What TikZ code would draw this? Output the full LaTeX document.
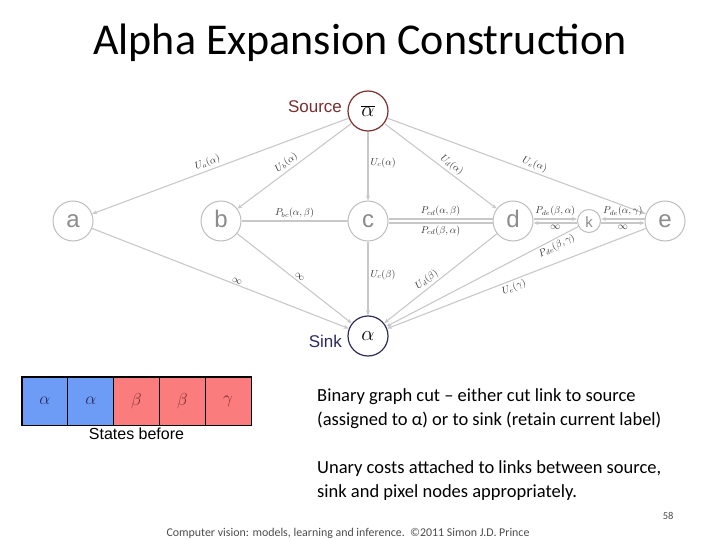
\documentclass[tikz,border=0pt]{standalone}
\usepackage{fontspec}
\setmainfont{Carlito}
\newfontfamily\graphfont{Liberation Sans}
\usetikzlibrary{arrows.meta}
\definecolor{edgegray}{HTML}{C8C8C8}
\definecolor{nodegray}{HTML}{BDBDBD}
\definecolor{lettergray}{HTML}{8C8C8C}
\definecolor{sourcered}{HTML}{7A2E2E}
\definecolor{sinknavy}{HTML}{2B2B5C}
\definecolor{stateblue}{HTML}{6D9CF6}
\definecolor{statered}{HTML}{FB7C7C}

\begin{document}
\begin{tikzpicture}[x=1pt, y=-1pt,
  pix/.style={circle, draw=nodegray, line width=1pt, minimum size=40pt, inner sep=0pt,
    text height=12pt, text depth=0pt, text=lettergray, font=\graphfont\fontsize{24}{24}\selectfont},
  aux/.style={pix, minimum size=23pt, text height=13pt, font=\graphfont\fontsize{15}{15}\selectfont},
  term/.style={circle, line width=1.2pt, minimum size=40pt, inner sep=0pt, font=\fontsize{22}{22}\selectfont},
  link/.style={edgegray, line width=1.1pt, -{Stealth[length=5pt, width=4pt]}},
  plainlink/.style={edgegray, line width=1.1pt},
  lab/.style={font=\fontsize{10}{10}\selectfont, text=black!80, inner sep=2pt},
  cell/.style={draw=black, line width=1pt, minimum width=45.8pt, minimum height=48pt, inner sep=0pt,
    font=\fontsize{18}{18}\selectfont}]
  \useasboundingbox (0,0) rectangle (720,540);
  % Title
  \node[anchor=base, font=\fontsize{44}{44}\selectfont] (title) at (360,55) {Alpha Expansion Construction};
  % Source and sink
  \node[term, draw=sourcered] (src) at (368,111) {$\overline{\alpha}$};
  \node[left=2pt, text=sourcered, font=\graphfont\fontsize{17}{17}\selectfont] (srclab) at ([yshift=4pt]src.west) {Source};
  \node[term, draw=sinknavy] (snk) at (368,336) {$\alpha$};
  \node[left=2pt, text=sinknavy, font=\graphfont\fontsize{17}{17}\selectfont] (snklab) at ([yshift=-5pt]snk.west) {Sink};
  % Pixel nodes
  \node[pix] (a) at (73,221) {a};
  \node[pix] (b) at (221,221) {b};
  \node[pix] (c) at (368,221) {c};
  \node[pix] (d) at (513,221) {d};
  \node[aux] (k) at (589,221) {k};
  \node[pix] (e) at (665,221) {e};
  % Links from source
  \draw[link] (src) -- node[lab, sloped, above, pos=.54] {$U_a(\alpha)$} (a);
  \draw[link] (src) -- node[lab, sloped, above, pos=.53] {$U_b(\alpha)$} (b);
  \draw[link] (src) -- node[lab, right, pos=.45] {$U_c(\alpha)$} (c);
  \draw[link] (src) -- node[lab, sloped, above, pos=.56] {$U_d(\alpha)$} (d);
  \draw[link] (src) -- node[lab, sloped, above, pos=.56] {$U_e(\alpha)$} (e);
  % Links to sink
  \draw[link] (a) -- node[lab, sloped, above, pos=.56, inner sep=0.5pt] {$\infty$} (snk);
  \draw[link] (b) -- node[lab, sloped, above, pos=.52] {$\infty$} (snk);
  \draw[link] (c) -- node[lab, right, pos=.45] {$U_c(\beta)$} (snk);
  \draw[link] (d) -- node[lab, sloped, above, pos=.58] {$U_d(\beta)$} (snk);
  \draw[link] (k) -- node[lab, sloped, below, pos=.13] {$P_{de}(\beta,\gamma)$} (snk);
  \draw[link] (e) -- node[lab, sloped, below, pos=.52] {$U_e(\gamma)$} (snk);
  % Pairwise links
  \draw[plainlink] (b) -- node[lab, above] {$P_{bc}(\alpha,\beta)$} (c);
  \draw[plainlink] ([yshift=2pt]c.east) -- node[lab, above] {$P_{cd}(\alpha,\beta)$} ([yshift=2pt]d.west);
  \draw[plainlink] ([yshift=-2pt]c.east) -- node[lab, below] {$P_{cd}(\beta,\alpha)$} ([yshift=-2pt]d.west);
  \draw[link] ([yshift=2pt]d.east) -- node[lab, above] {$P_{de}(\beta,\alpha)$} ([yshift=2pt]k.west);
  \draw[link] ([yshift=-2pt]k.west) -- node[lab, below] {$\infty$} ([yshift=-2pt]d.east);
  \draw[link] ([yshift=2pt]e.west) -- node[lab, above] {$P_{de}(\alpha,\gamma)$} ([yshift=2pt]k.east);
  \draw[link] ([yshift=-2pt]k.east) -- node[lab, below] {$\infty$} ([yshift=-2pt]e.west);
  % States before
  \node[cell, fill=stateblue, text=sinknavy] (s1) at (44.9,401) {$\alpha$};
  \node[cell, fill=stateblue, text=sinknavy] (s2) at (90.7,401) {$\alpha$};
  \node[cell, fill=statered, text=sourcered] (s3) at (136.5,401) {$\beta$};
  \node[cell, fill=statered, text=sourcered] (s4) at (182.3,401) {$\beta$};
  \node[cell, fill=statered, text=sourcered] (s5) at (228.1,401) {$\gamma$};
  \draw[line width=1.6pt] (s1.north west) rectangle (s5.south east);
  \node[anchor=north, font=\graphfont\fontsize{16}{16}\selectfont] (stlab) at (136.5,424) {States before};
  % Notes
  \node[anchor=north west, align=left, inner sep=0pt, font=\fontsize{18.5}{24}\selectfont] (note1) at (317,388)
    {Binary graph cut -- either cut link to source\\(assigned to α) or to sink (retain current label)};
  \node[anchor=north west, align=left, inner sep=0pt, font=\fontsize{18.5}{24}\selectfont] (note2) at (317,460)
    {Unary costs attached to links between source,\\sink and pixel nodes appropriately.};
  % Footer
  \node[anchor=base east, font=\fontsize{10.5}{10.5}\selectfont, text=black!70] (pnum) at (677,519) {58};
  \node[anchor=base west, font=\fontsize{11.9}{12}\selectfont, text=black!70] (foot) at (163,536)
    {Computer vision: models, learning and inference.\ \ ©2011 Simon J.D. Prince};
\end{tikzpicture}
\end{document}
